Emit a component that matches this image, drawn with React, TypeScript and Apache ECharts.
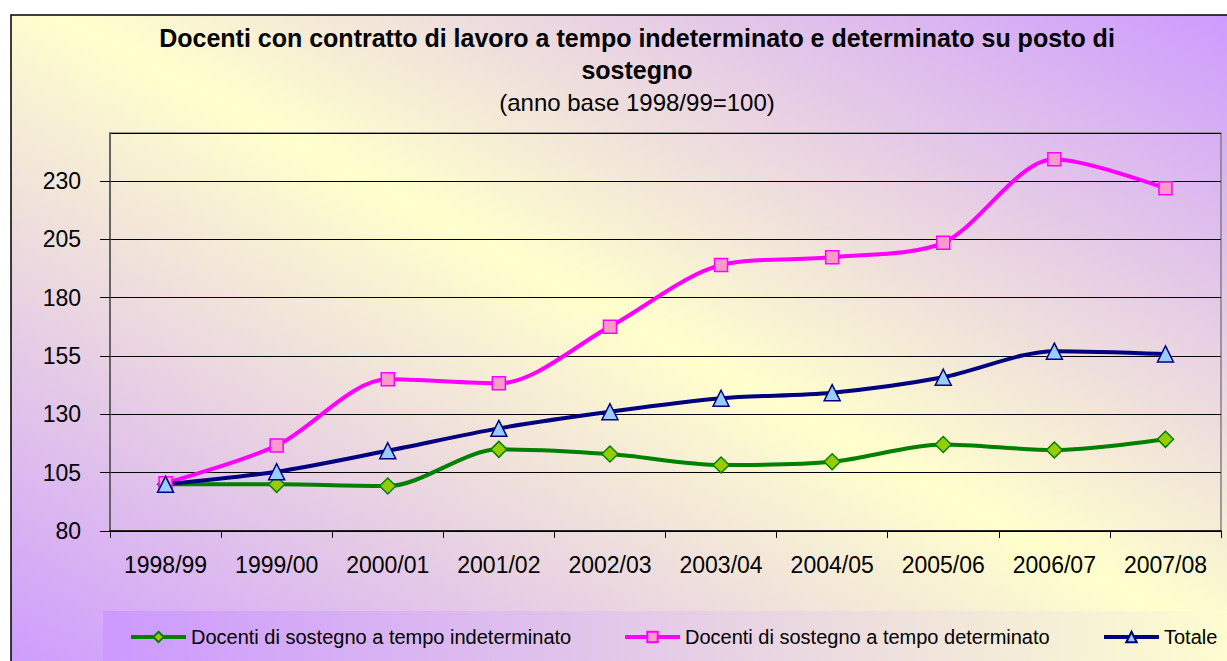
import React, { useEffect, useRef } from "react";
import * as echarts from "echarts";

const categories = ["1998/99", "1999/00", "2000/01", "2001/02", "2002/03", "2003/04", "2004/05", "2005/06", "2006/07", "2007/08"];
const indeterminato = [100, 100, 99.3, 115.0, 113.0, 108.3, 109.7, 117.1, 114.7, 119.3];
const determinato = [100.5, 116.6, 145.0, 143.3, 167.6, 194.0, 197.3, 203.6, 239.3, 226.9];
const totale = [100, 105.4, 114.4, 124.0, 131.1, 136.9, 139.3, 145.9, 157.1, 155.9];
const seriesNames = [
  "Docenti di sostegno a tempo indeterminato",
  "Docenti di sostegno a tempo determinato",
  "Totale",
];
const titleLines = ["Docenti con contratto di lavoro a tempo indeterminato e determinato su posto di", "sostegno"];
const subtitle = "(anno base 1998/99=100)";

const FONT = "'Liberation Sans', Arial, sans-serif";
const PURPLE = "#cc99ff";
const YELLOW = "#ffffcc";

export default function App() {
  const ref = useRef<HTMLDivElement>(null);
  useEffect(() => {
    document.body.style.margin = "0";
    const chart = echarts.init(ref.current!, undefined, { renderer: "svg" });
    const legendBase = {
      orient: "horizontal",
      itemWidth: 55,
      itemHeight: 13,
      top: 627,
      padding: 0,
      lineStyle: { width: 4 },
      textStyle: { fontSize: 20, fontFamily: FONT, color: "#000" },
    };
    chart.setOption({
      animation: false,
      graphic: [
        {
          type: "rect",
          z: -10,
          silent: true,
          shape: { x: 11, y: 15, width: 1240, height: 670 },
          style: {
            fill: new echarts.graphic.LinearGradient(0, 1, 1, 0, [
              { offset: 0, color: PURPLE },
              { offset: 0.52, color: YELLOW },
              { offset: 1, color: PURPLE },
            ]),
            stroke: "#000",
            lineWidth: 1.5,
          },
        },
        {
          type: "rect",
          z: -9,
          silent: true,
          shape: { x: 103, y: 611, width: 1130, height: 60 },
          style: {
            fill: new echarts.graphic.LinearGradient(0, 0, 1, 0, [
              { offset: 0, color: PURPLE },
              { offset: 0.85, color: "#f6f0d6" },
              { offset: 1, color: "#fefcd0" },
            ]),
          },
        },
      ],
      title: {
        text: titleLines.join("\n"),
        subtext: subtitle,
        left: 637,
        top: 22,
        textAlign: "center",
        itemGap: 0,
        padding: 0,
        textStyle: { fontSize: 25, fontWeight: "bold", fontFamily: FONT, color: "#000", lineHeight: 32 },
        subtextStyle: { fontSize: 24, fontFamily: FONT, color: "#000", lineHeight: 32 },
      },
      legend: [
        { ...legendBase, left: 129, data: [seriesNames[0]] },
        { ...legendBase, left: 623, data: [seriesNames[1]] },
        { ...legendBase, left: 1102, data: [seriesNames[2]] },
      ],
      grid: {
        left: 110,
        right: 6,
        top: 133,
        bottom: 130,
        show: true,
        backgroundColor: "transparent",
        borderColor: "#808080",
        borderWidth: 1.5,
      },
      xAxis: {
        type: "category",
        data: categories,
        boundaryGap: true,
        axisLine: { lineStyle: { color: "#000", width: 1.5 } },
        axisTick: { show: true, length: 7, lineStyle: { color: "#000" } },
        axisLabel: { fontSize: 23, fontFamily: FONT, color: "#000", margin: 22 },
      },
      yAxis: {
        type: "value",
        min: 80,
        max: 250.6,
        interval: 25,
        axisLine: { show: true, lineStyle: { color: "#555", width: 1.5 } },
        axisTick: { show: true, length: 10, lineStyle: { color: "#000" } },
        axisLabel: { fontSize: 23, fontFamily: FONT, color: "#000", margin: 29, showMaxLabel: false },
        splitLine: { show: true, lineStyle: { color: "#000", width: 1 } },
      },
      series: [
        {
          name: seriesNames[0],
          type: "line",
          data: indeterminato,
          smooth: 0.3,
          symbol: "diamond",
          symbolSize: 16,
          lineStyle: { color: "#008000", width: 4 },
          itemStyle: { color: "#99cc00", borderColor: "#008000", borderWidth: 1.5 },
        },
        {
          name: seriesNames[1],
          type: "line",
          data: determinato,
          smooth: 0.3,
          symbol: "rect",
          symbolSize: 13,
          lineStyle: { color: "#ff00ff", width: 4 },
          itemStyle: { color: "#ff99cc", borderColor: "#ff00ff", borderWidth: 1.5 },
        },
        {
          name: seriesNames[2],
          type: "line",
          data: totale,
          smooth: 0.3,
          symbol: "triangle",
          symbolSize: 16,
          lineStyle: { color: "#000080", width: 4 },
          itemStyle: { color: "#99ccff", borderColor: "#000080", borderWidth: 1.5 },
        },
      ],
    });
    return () => chart.dispose();
  }, []);
  return <div ref={ref} style={{ width: 1227, height: 661 }} />;
}
